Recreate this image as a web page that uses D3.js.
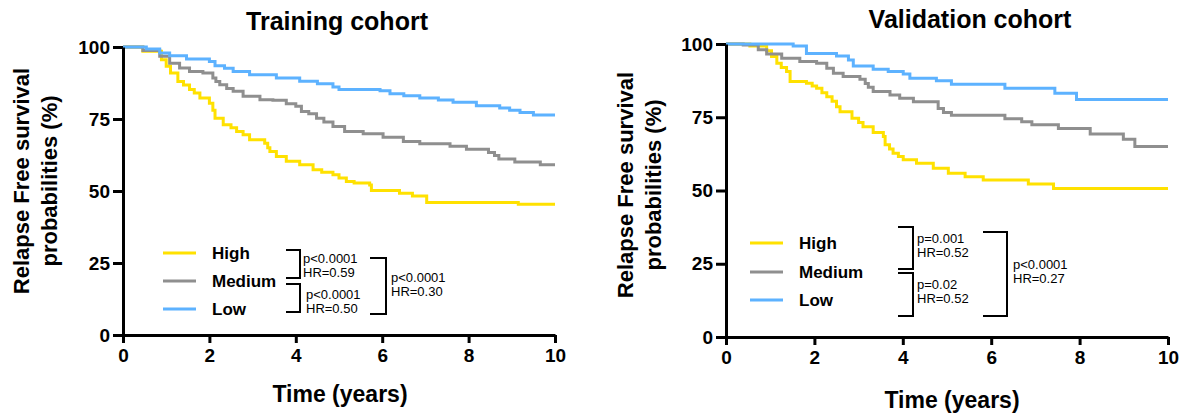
<!DOCTYPE html>
<html>
<head>
<meta charset="utf-8">
<script src="https://cdn.jsdelivr.net/npm/d3@7/dist/d3.min.js"></script>
<style>
  body { margin: 0; background: #fff; }
  svg { font-family: "Liberation Sans", Arial, sans-serif; }
  .axis path, .axis line { stroke: #000; stroke-width: 3; }
  .axis text { font-size: 19px; font-weight: bold; fill: #000; font-family: "Liberation Sans", Arial, sans-serif; }
</style>
</head>
<body>
<script>
// groups and colours
var groups = ['High', 'Medium', 'Low'];
var colors = ['#ffe100', '#8f8f8f', '#5db2ff'];
var xTicks = [0, 2, 4, 6, 8, 10];
var yTicks = [0, 25, 50, 75, 100];

// training cohort, [years, survival %]
var trainHigh = [[0,100],[0.46,98.5],[0.89,95.6],[1.0,93.3],[1.1,91],[1.27,88],[1.4,86.8],[1.54,85.2],[1.65,84],[1.78,82.3],[2.0,80.5],[2.08,78],[2.13,75.3],[2.32,73],[2.5,72],[2.63,70.7],[2.78,69.5],[2.93,67.8],[3.28,66.6],[3.35,65],[3.4,63.7],[3.55,62],[3.78,60.3],[4.09,59.1],[4.4,57.4],[4.6,56.5],[4.86,55.6],[5.0,54.5],[5.17,53.3],[5.35,52.8],[5.71,52.1],[5.75,50.2],[6.4,49.2],[6.7,48.3],[7.03,46],[9.15,45.4],[10,45.4]];
var trainMed = [[0,100],[0.46,98.8],[0.85,96.8],[1.08,94.4],[1.31,92.7],[1.54,91.5],[1.85,91],[2.08,89.2],[2.15,88],[2.24,86.9],[2.4,85.6],[2.55,84.6],[2.78,82.9],[3.17,81.7],[3.47,81.5],[3.78,80.3],[4.0,79.4],[4.13,77.6],[4.3,76.8],[4.48,75.3],[4.65,74],[4.86,72.4],[5.13,70.7],[5.56,69.9],[6.02,68.7],[6.49,67.2],[6.87,66.4],[7.57,65.5],[7.95,64.5],[8.46,63.4],[8.6,62.3],[8.7,61.1],[9.07,60.1],[9.66,59.1],[10,59.1]];
var trainLow = [[0,100],[0.54,99.3],[0.85,97.9],[1.08,97],[1.47,95.8],[2.0,95],[2.13,93.5],[2.35,92.6],[2.55,91.5],[2.93,90.4],[3.55,89.2],[4.09,88.1],[4.5,87.2],[4.86,86.1],[5.0,85.2],[5.95,84.8],[6.18,83.8],[6.5,83.1],[6.87,82.3],[7.3,81.6],[7.64,80.8],[8.18,79.6],[8.72,78.8],[8.95,78],[9.19,77.3],[9.5,76.4],[10,76.4]];

// validation cohort
var validHigh = [[0,100],[0.54,99.3],[0.92,97.7],[1.03,95.7],[1.15,93.4],[1.25,92],[1.37,90.6],[1.45,87.2],[1.82,86.6],[1.95,85.7],[2.05,84.9],[2.17,83.4],[2.28,82],[2.4,80.5],[2.5,78.6],[2.58,76.9],[2.85,74.7],[3.0,73.2],[3.1,71.8],[3.33,69.8],[3.56,68.4],[3.6,65.6],[3.7,64.2],[3.78,62.7],[3.9,61.6],[4.01,60.5],[4.31,59.3],[4.69,57.6],[5.03,55.9],[5.41,54.7],[5.82,53.6],[6.84,52.2],[7.41,50.7],[10,50.7]];
var validMed = [[0,100],[0.39,99.7],[0.73,98],[0.92,96.6],[1.26,95.1],[1.67,94],[2.05,93.4],[2.28,91.7],[2.43,90],[2.65,88.9],[3.03,88],[3.15,86.5],[3.22,85.2],[3.33,83.8],[3.71,82.6],[3.93,81.5],[4.24,80.3],[4.8,78],[4.92,76.6],[5.1,75.7],[6.31,74.5],[6.69,73.5],[6.92,72.4],[7.52,71.2],[8.24,69.3],[8.99,67.5],[9.25,65],[10,65]];
var validLow = [[0,100],[1.52,99.3],[1.82,96.8],[2.5,95.9],[2.77,94.5],[2.88,92.5],[3.33,91.4],[3.67,90.6],[4.01,89.8],[4.16,88.3],[4.76,87.5],[5.1,86.3],[6.31,84.9],[7.44,83.2],[7.93,81.1],[10,81.1]];

// bracket annotations
var trainStats = [
	{ x0: 286, x1: 300, top: 250, bottom: 278, tx: 303, ty: 263, lines: ['p<0.0001', 'HR=0.59'] },
	{ x0: 286, x1: 300, top: 284, bottom: 312, tx: 306, ty: 299, lines: ['p<0.0001', 'HR=0.50'] },
	{ x0: 370, x1: 386, top: 258, bottom: 314, tx: 391, ty: 282, lines: ['p<0.0001', 'HR=0.30'] }
];
var validStats = [
	{ x0: 898, x1: 913, top: 227, bottom: 269, tx: 917, ty: 243, lines: ['p=0.001', 'HR=0.52'] },
	{ x0: 898, x1: 913, top: 273, bottom: 316, tx: 917, ty: 289, lines: ['p=0.02', 'HR=0.52'] },
	{ x0: 983, x1: 1007, top: 232, bottom: 316, tx: 1013, ty: 269, lines: ['p<0.0001', 'HR=0.27'] }
];

var svg = d3.select('body').append('svg')
	.attr('width', 1186)
	.attr('height', 415);

function drawPanel(p) {
	var x = d3.scaleLinear().domain([0, 10]).range([p.left, p.right]);
	var y = d3.scaleLinear().domain([0, 100]).range([p.bottom, p.top]);
	var g = svg.append('g');

	// curves
	var line = d3.line()
		.x(function(d) { return x(d[0]); })
		.y(function(d) { return y(d[1]); })
		.curve(d3.curveStepAfter);

	p.series.forEach(function(s, i) {
		g.append('path')
			.datum(s)
			.attr('d', line)
			.attr('fill', 'none')
			.attr('stroke', colors[i])
			.attr('stroke-width', 3);
	});

	// axes
	g.append('g')
		.attr('class', 'axis')
		.attr('transform', 'translate(0,' + p.bottom + ')')
		.call(d3.axisBottom(x).tickValues(xTicks).tickSize(8).tickSizeOuter(0).tickPadding(6));
	g.append('g')
		.attr('class', 'axis')
		.attr('transform', 'translate(' + p.left + ',0)')
		.call(d3.axisLeft(y).tickValues(yTicks).tickSize(10).tickSizeOuter(0).tickPadding(3));

	// titles
	g.append('text')
		.attr('x', p.titleX).attr('y', p.titleY)
		.attr('text-anchor', 'middle')
		.style('font-size', '25px').style('font-weight', 'bold')
		.text(p.title);
	g.append('text')
		.attr('x', p.xLabelX).attr('y', p.xLabelY)
		.attr('text-anchor', 'middle')
		.style('font-size', '23px').style('font-weight', 'bold')
		.text('Time (years)');
	['Relapse Free survival', 'probabilities (%)'].forEach(function(t, i) {
		g.append('text')
			.attr('transform', 'translate(' + p.yLabelX[i] + ',' + p.yLabelY + ') rotate(-90)')
			.attr('text-anchor', 'middle')
			.style('font-size', '22px').style('font-weight', 'bold')
			.text(t);
	});

	// legend
	groups.forEach(function(name, i) {
		g.append('line')
			.attr('x1', p.legX).attr('x2', p.legX + 33)
			.attr('y1', p.legY[i]).attr('y2', p.legY[i])
			.attr('stroke', colors[i]).attr('stroke-width', 3);
		g.append('text')
			.attr('x', p.legTextX).attr('y', p.legY[i] + 6)
			.style('font-size', '17px').style('font-weight', 'bold')
			.text(name);
	});

	// brackets with stats
	p.stats.forEach(function(b) {
		g.append('path')
			.attr('d', 'M' + b.x0 + ',' + b.top + 'H' + b.x1 + 'V' + b.bottom + 'H' + b.x0)
			.attr('fill', 'none')
			.attr('stroke', '#000')
			.attr('stroke-width', 2);
		b.lines.forEach(function(t, j) {
			g.append('text')
				.attr('x', b.tx).attr('y', b.ty + j * 14)
				.style('font-size', '13px')
				.text(t);
		});
	});
}

drawPanel({
	left: 123, right: 555, top: 47, bottom: 335,
	series: [trainHigh, trainMed, trainLow],
	title: 'Training cohort', titleX: 337, titleY: 30,
	xLabelX: 340, xLabelY: 402,
	yLabelX: [29, 57], yLabelY: 181,
	legX: 163, legTextX: 212, legY: [253, 281, 309],
	stats: trainStats
});

drawPanel({
	left: 726, right: 1168, top: 44, bottom: 337,
	series: [validHigh, validMed, validLow],
	title: 'Validation cohort', titleX: 970, titleY: 28,
	xLabelX: 952, xLabelY: 408,
	yLabelX: [633, 661], yLabelY: 185,
	legX: 750, legTextX: 799, legY: [243, 272, 300],
	stats: validStats
});
</script>
</body>
</html>
